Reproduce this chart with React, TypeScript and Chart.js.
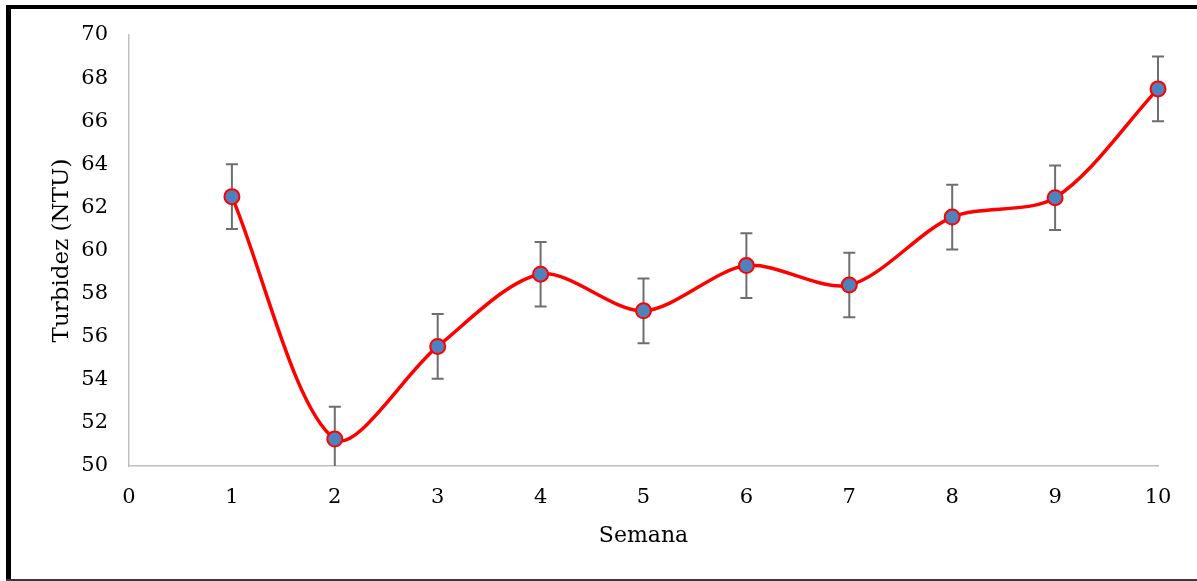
import React, { useEffect, useRef } from "react";
import { Chart, registerables } from "chart.js";

Chart.register(...registerables);

const semanas = [1, 2, 3, 4, 5, 6, 7, 8, 9, 10];
const turbidez = [62.5, 51.25, 55.55, 58.9, 57.2, 59.3, 58.4, 61.55, 62.45, 67.5];
const desvio = [1.5, 1.5, 1.5, 1.5, 1.5, 1.5, 1.5, 1.5, 1.5, 1.5];
const yTitle = "Turbidez (NTU)";
const xTitle = "Semana";

const W = 1197;
const H = 581;

const framePlugin = {
  id: "frame",
  beforeDraw(chart: any) {
    const ctx = chart.ctx;
    ctx.save();
    ctx.fillStyle = "#ffffff";
    ctx.fillRect(0, 0, chart.width, chart.height);
    ctx.fillStyle = "#000000";
    ctx.fillRect(6, 5, 5, chart.height - 5);
    ctx.fillRect(6, 5, chart.width - 6, 4);
    ctx.fillStyle = "#3a3a3a";
    ctx.fillRect(6, chart.height - 2, chart.width - 6, 2);
    ctx.restore();
  },
};

const errorBarPlugin = {
  id: "errorBars",
  beforeDatasetsDraw(chart: any) {
    const ctx = chart.ctx;
    const xs = chart.scales.x;
    const ys = chart.scales.y;
    const area = chart.chartArea;
    ctx.save();
    ctx.beginPath();
    ctx.rect(area.left, area.top - 20, area.right - area.left + 20, area.bottom - area.top + 20);
    ctx.clip();
    ctx.strokeStyle = "#6e6e6e";
    ctx.lineWidth = 2;
    semanas.forEach((s, i) => {
      const x = xs.getPixelForValue(s);
      const yTop = ys.getPixelForValue(turbidez[i] + desvio[i]);
      const yBot = ys.getPixelForValue(turbidez[i] - desvio[i]);
      ctx.beginPath();
      ctx.moveTo(x, yTop);
      ctx.lineTo(x, yBot);
      ctx.moveTo(x - 6, yTop);
      ctx.lineTo(x + 6, yTop);
      ctx.moveTo(x - 6, yBot);
      ctx.lineTo(x + 6, yBot);
      ctx.stroke();
    });
    ctx.restore();
  },
};

export default function App() {
  const ref = useRef<HTMLCanvasElement>(null);

  useEffect(() => {
    document.body.style.margin = "0";
    const canvas = ref.current!;
    const font = "'DejaVu Serif', serif";
    const chart = new Chart(canvas, {
      type: "line",
      data: {
        datasets: [
          {
            data: semanas.map((s, i) => ({ x: s, y: turbidez[i] })),
            borderColor: "#ff0000",
            borderWidth: 3.5,
            tension: 0.3,
            pointRadius: 7.5,
            pointBackgroundColor: "#4f81bd",
            pointBorderColor: "#ff0000",
            pointBorderWidth: 2,
            fill: false,
            clip: 12,
          },
        ],
      },
      options: {
        responsive: false,
        animation: false,
        events: [],
        layout: { padding: { left: 0, top: 35, right: 39, bottom: 0 } },
        plugins: {
          legend: { display: false },
          tooltip: { enabled: false },
        },
        scales: {
          x: {
            type: "linear",
            min: 0,
            max: 10,
            afterFit: (s: any) => {
              s.height = 115;
            },
            ticks: {
              stepSize: 1,
              color: "#000000",
              padding: 19,
              font: { family: font, size: 21 },
            },
            grid: { display: false, drawTicks: false },
            border: { display: true, color: "#bfbfbf", width: 1.5 },
            title: {
              display: true,
              text: xTitle,
              color: "#000000",
              font: { family: font, size: 22 },
              padding: { top: 0, bottom: 32 },
            },
          },
          y: {
            type: "linear",
            min: 50,
            max: 70,
            afterFit: (s: any) => {
              s.width = 129;
            },
            ticks: {
              stepSize: 2,
              color: "#000000",
              padding: 21,
              font: { family: font, size: 21 },
            },
            grid: { display: false, drawTicks: false },
            border: { display: true, color: "#bfbfbf", width: 1.5 },
            title: {
              display: true,
              text: yTitle,
              color: "#000000",
              font: { family: font, size: 23 },
              padding: { top: 48, bottom: 0 },
            },
          },
        },
      },
      plugins: [framePlugin, errorBarPlugin],
    });
    return () => chart.destroy();
  }, []);

  return (
    <div style={{ width: W, height: H }}>
      <canvas ref={ref} width={W} height={H} style={{ display: "block" }} />
    </div>
  );
}
